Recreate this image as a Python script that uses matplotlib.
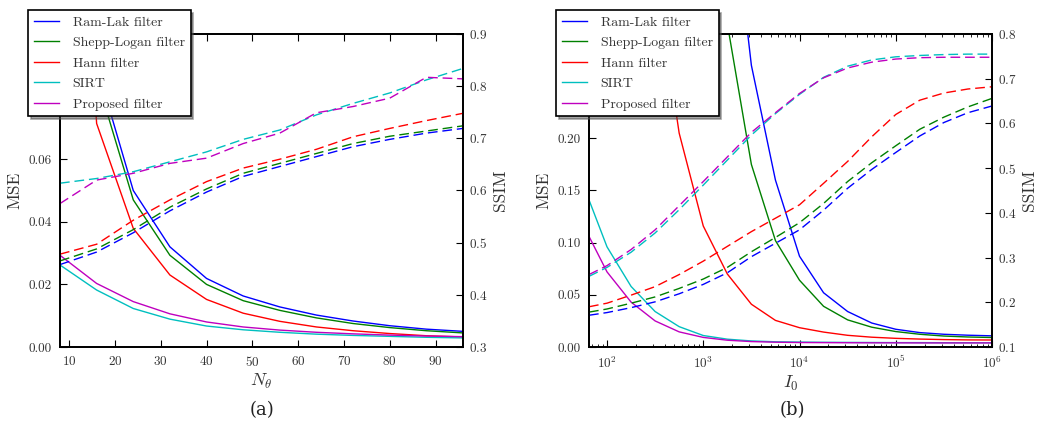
import matplotlib
matplotlib.use("Agg")
import matplotlib.pyplot as plt

plt.rcParams["font.family"] = "cmr10"
plt.rcParams["mathtext.fontset"] = "cm"
plt.rcParams["axes.formatter.use_mathtext"] = True
plt.rcParams["axes.unicode_minus"] = False

names = ["Ram-Lak filter", "Shepp-Logan filter", "Hann filter", "SIRT", "Proposed filter"]
colors = ["#0000ff", "#008000", "#ff0000", "#00bfbf", "#bf00bf"]

# (a) MSE / SSIM vs number of projections
n_theta = [8, 16, 24, 32, 40, 48, 56, 64, 72, 80, 88, 96]
ramlak_mse_a = [0.30, 0.090, 0.050, 0.032, 0.0219, 0.0163, 0.0128, 0.0102, 0.0083, 0.0068, 0.0057, 0.0050]
shepp_mse_a = [0.28, 0.086, 0.047, 0.0293, 0.0200, 0.0148, 0.0117, 0.0093, 0.0075, 0.0062, 0.0052, 0.0045]
hann_mse_a = [0.25, 0.0714, 0.0379, 0.0230, 0.0152, 0.0108, 0.0082, 0.0064, 0.0052, 0.0043, 0.0036, 0.0032]
sirt_mse_a = [0.0262, 0.0182, 0.0123, 0.0089, 0.0067, 0.0055, 0.0047, 0.0041, 0.0037, 0.0034, 0.0031, 0.0029]
prop_mse_a = [0.0293, 0.0203, 0.0145, 0.0106, 0.0080, 0.0064, 0.0054, 0.0047, 0.0042, 0.0038, 0.0035, 0.0033]

ramlak_ssim_a = [0.458, 0.482, 0.519, 0.561, 0.597, 0.627, 0.646, 0.665, 0.684, 0.698, 0.710, 0.719]
shepp_ssim_a = [0.465, 0.488, 0.525, 0.568, 0.603, 0.633, 0.652, 0.671, 0.690, 0.704, 0.714, 0.724]
hann_ssim_a = [0.478, 0.497, 0.543, 0.582, 0.617, 0.643, 0.660, 0.679, 0.703, 0.719, 0.734, 0.748]
sirt_ssim_a = [0.614, 0.623, 0.636, 0.655, 0.674, 0.698, 0.716, 0.745, 0.767, 0.787, 0.812, 0.834]
prop_ssim_a = [0.575, 0.620, 0.633, 0.652, 0.662, 0.690, 0.710, 0.749, 0.761, 0.777, 0.817, 0.814]

# (b) MSE / SSIM vs incident intensity
i0 = [65, 100, 178, 316, 562, 1000, 1778, 3162, 5623, 10000, 17783, 31623,
      56234, 100000, 177828, 316228, 562341, 1000000]
ramlak_mse_b = [13.0, 8.4, 4.7, 2.7, 1.5, 0.84, 0.47, 0.27, 0.160, 0.087, 0.052, 0.034,
                0.023, 0.017, 0.0138, 0.0122, 0.0113, 0.0107]
shepp_mse_b = [8.5, 5.5, 3.0, 1.7, 0.97, 0.55, 0.31, 0.175, 0.102, 0.064, 0.039, 0.026,
               0.019, 0.0148, 0.0122, 0.0105, 0.0096, 0.0091]
hann_mse_b = [1.7, 1.1, 0.64, 0.36, 0.205, 0.116, 0.070, 0.041, 0.0255, 0.0185, 0.0143, 0.0112,
              0.0094, 0.0083, 0.0076, 0.0071, 0.0068, 0.0067]
sirt_mse_b = [0.141, 0.096, 0.058, 0.034, 0.0195, 0.011, 0.0075, 0.0058, 0.0050, 0.0047, 0.0045, 0.0044,
              0.0043, 0.0042, 0.0042, 0.0041, 0.0041, 0.0041]
prop_mse_b = [0.106, 0.072, 0.043, 0.025, 0.0145, 0.0092, 0.0065, 0.0052, 0.0046, 0.0043, 0.0042, 0.0041,
              0.0040, 0.0040, 0.0039, 0.0039, 0.0039, 0.0039]

ramlak_ssim_b = [0.171, 0.177, 0.188, 0.201, 0.219, 0.240, 0.266, 0.302, 0.332, 0.362, 0.406, 0.455,
                 0.497, 0.535, 0.572, 0.602, 0.624, 0.639]
shepp_ssim_b = [0.178, 0.185, 0.198, 0.212, 0.231, 0.252, 0.278, 0.313, 0.345, 0.378, 0.421, 0.470,
                0.512, 0.550, 0.587, 0.614, 0.637, 0.656]
hann_ssim_b = [0.190, 0.198, 0.216, 0.235, 0.262, 0.292, 0.325, 0.358, 0.388, 0.418, 0.466, 0.515,
               0.570, 0.620, 0.652, 0.668, 0.677, 0.682]
sirt_ssim_b = [0.258, 0.278, 0.312, 0.355, 0.407, 0.462, 0.518, 0.574, 0.622, 0.665, 0.703, 0.728,
               0.742, 0.749, 0.752, 0.754, 0.755, 0.755]
prop_ssim_b = [0.262, 0.282, 0.318, 0.362, 0.416, 0.470, 0.525, 0.580, 0.624, 0.667, 0.702, 0.724,
               0.737, 0.744, 0.747, 0.748, 0.748, 0.748]

txt = "#333333"
fig = plt.figure(figsize=(10.47, 4.26), dpi=100)
ax_a = fig.add_axes([60 / 1047, 79 / 426, 403 / 1047, 313 / 426])
ax_b = fig.add_axes([589 / 1047, 79 / 426, 403 / 1047, 313 / 426])


def panel(ax, x, mses, ssims, ylim_mse, ylim_ssim, xlabel, leg_x):
    ax2 = ax.twinx()
    handles = []
    for y, c, name in zip(mses, colors, names):
        h, = ax.plot(x, y, color=c, lw=1.0, label=name)
        handles.append(h)
    for y, c in zip(ssims, colors):
        ax2.plot(x, y, color=c, lw=1.0, ls=(0, (7, 3.5)))
    ax.set_ylim(*ylim_mse)
    ax2.set_ylim(*ylim_ssim)
    ax.set_ylabel("MSE", fontsize=12.5, color=txt)
    ax2.set_ylabel("SSIM", fontsize=12.5, color=txt)
    ax.set_xlabel(xlabel, fontsize=13, color=txt, labelpad=2)
    ax.tick_params(axis="both", which="both", direction="in", top=True, labelsize=9.5,
                   labelcolor=txt, pad=6)
    ax.tick_params(axis="y", right=False)
    ax2.tick_params(axis="y", direction="in", labelsize=9.5, labelcolor=txt, pad=4)
    ax.tick_params(which="major", length=5)
    ax.tick_params(which="minor", length=2.5)
    ax2.tick_params(length=5)
    for a in (ax, ax2):
        for s in a.spines.values():
            s.set_linewidth(1.3)
    leg = ax2.legend(handles=handles, loc="upper left",
                     bbox_to_anchor=(leg_x / 1047, 1 - 10 / 426),
                     bbox_transform=fig.transFigure, fontsize=10, shadow=True,
                     fancybox=False, framealpha=1, borderaxespad=0,
                     handlelength=1.8, handletextpad=1.0, labelspacing=0.56,
                     borderpad=0.42)
    leg.get_frame().set_edgecolor("black")
    leg.get_frame().set_linewidth(1.2)
    for t in leg.get_texts():
        t.set_color(txt)
    return ax2


panel(ax_a, n_theta,
      [ramlak_mse_a, shepp_mse_a, hann_mse_a, sirt_mse_a, prop_mse_a],
      [ramlak_ssim_a, shepp_ssim_a, hann_ssim_a, sirt_ssim_a, prop_ssim_a],
      (0, 0.1), (0.3, 0.9), r"$N_\theta$", 28)
ax_a.set_xlim(n_theta[0], n_theta[-1])
ax_a.set_xticks([10, 20, 30, 40, 50, 60, 70, 80, 90])
ax_a.set_yticks([0.0, 0.02, 0.04, 0.06, 0.08, 0.10])
ax_a.yaxis.set_major_formatter(matplotlib.ticker.FormatStrFormatter("%.2f"))

panel(ax_b, i0,
      [ramlak_mse_b, shepp_mse_b, hann_mse_b, sirt_mse_b, prop_mse_b],
      [ramlak_ssim_b, shepp_ssim_b, hann_ssim_b, sirt_ssim_b, prop_ssim_b],
      (0, 0.3), (0.1, 0.8), r"$I_0$", 556)
ax_b.set_xscale("log")
ax_b.set_xlim(i0[0], i0[-1])
ax_b.set_yticks([0.0, 0.05, 0.10, 0.15, 0.20, 0.25, 0.30])
ax_b.yaxis.set_major_formatter(matplotlib.ticker.FormatStrFormatter("%.2f"))
ax_b.tick_params(axis="x", which="both", direction="in", top=True)

fig.text(262 / 1047, 1 - 410 / 426, "(a)", fontsize=13, family="DejaVu Serif",
         ha="center", va="center", color="#222222")
fig.text(792 / 1047, 1 - 410 / 426, "(b)", fontsize=13, family="DejaVu Serif",
         ha="center", va="center", color="#222222")

fig.savefig("out.png", dpi=100)
